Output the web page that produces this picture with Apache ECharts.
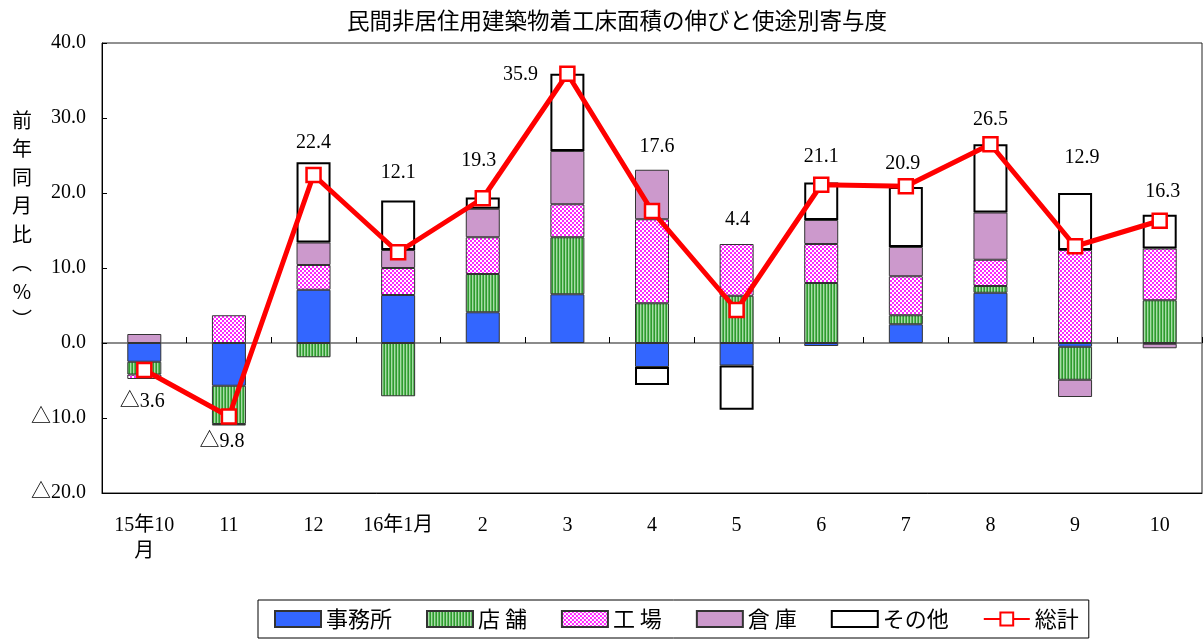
<!DOCTYPE html>
<html>
<head>
<meta charset="utf-8">
<script src="https://cdn.jsdelivr.net/npm/echarts@6/dist/echarts.min.js"></script>
<style>
html,body{margin:0;padding:0;background:#fff;}
#chart{width:1203px;height:641px;}
</style>
</head>
<body>
<div id="chart"></div>
<script>
// ---- data ----
var categories = ['15年10\n月', '11', '12', '16年1月', '2', '3', '4', '5', '6', '7', '8', '9', '10'];
var office    = [-2.5, -5.7, 7.1, 6.4, 4.1, 6.5, -3.2, -3.0, -0.4, 2.5, 6.7, -0.5, -0.1];
var shop      = [-1.7, -5.1, -1.9, -7.1, 5.1, 7.6, 5.3, 6.3, 8.0, 1.2, 0.9, -4.4, 5.7];
var factory   = [-0.6, 3.7, 3.3, 3.6, 4.9, 4.4, 11.2, 6.9, 5.2, 5.2, 3.5, 12.4, 6.9];
var warehouse = [1.2, -0.2, 3.0, 2.4, 3.8, 7.1, 6.6, 0, 3.2, 3.9, 6.3, -2.3, -0.6];
var other     = [0, 0, 10.7, 6.6, 1.5, 10.3, -2.4, -5.9, 5.0, 8.0, 9.1, 7.6, 4.5];
var total     = [-3.6, -9.8, 22.4, 12.1, 19.3, 35.9, 17.6, 4.4, 21.1, 20.9, 26.5, 12.9, 16.3];
var yTicks    = [-20, -10, 0, 10, 20, 30, 40];
var seriesNames = ['事務所', '店 舗', '工 場', '倉 庫', 'その他', '総計'];

// ---- layout (label offsets relative to each point, px) ----
var labelOffsets = [[-2,32],[-7,25],[0,-32],[0,-80],[-4,-38],[-47,1],[5,-64],[1,-90],[0,-28],[-3,-23],[0,-25],[7,-89],[3,-29]];

function makePattern(kind){
  var c = document.createElement('canvas');
  var ctx = c.getContext('2d');
  if (kind === 'green') {
    c.width = 3; c.height = 3;
    ctx.fillStyle = '#a8dca8'; ctx.fillRect(0,0,3,3);
    ctx.fillStyle = '#2f9a2f'; ctx.fillRect(0,0,1,3);
    ctx.fillStyle = '#5cb85c'; ctx.fillRect(2,0,1,3);
  } else {
    c.width = 4; c.height = 4;
    ctx.fillStyle = '#ffffff'; ctx.fillRect(0,0,4,4);
    ctx.fillStyle = '#ff22ff';
    for (var i=0;i<4;i++){ ctx.fillRect(i,(3-i)%4,1,1); ctx.fillRect((i+2)%4,i,1,1); }
  }
  return {image: c, repeat: 'repeat'};
}

var serif = "'Liberation Serif','Noto Sans CJK JP',serif";
var cjk = "'Noto Sans CJK JP',sans-serif";

function fmt(v){ return v < 0 ? '△' + Math.abs(v).toFixed(1) : v.toFixed(1); }
function clean(arr){ return arr.map(function(v){ return v === 0 ? '-' : v; }); }

function barSeries(name, data, color, border, bw){
  return {
    name: name, type: 'bar', stack: 'a', xAxisIndex: 0, barWidth: 34,
    data: clean(data),
    itemStyle: {color: color, borderColor: border, borderWidth: bw},
    emphasis: {disabled: true}
  };
}

var chart = echarts.init(document.getElementById('chart'), null, {renderer: 'canvas'});
chart.setOption({
  animation: false,
  backgroundColor: '#fff',
  title: {
    text: '民間非居住用建築物着工床面積の伸びと使途別寄与度',
    left: 342, top: 4,
    textStyle: {fontFamily: cjk, fontSize: 22.5, fontWeight: 'normal', color: '#000'}
  },
  graphic: [{
    type: 'text', left: 12, top: 106,
    style: {text: '前\n年\n同\n月\n比\n︵\n%\n︶', font: '20px ' + cjk, lineHeight: 28.5, fill: '#000', textAlign: 'center'}
  }],
  grid: {left: 102, right: 1, top: 43, bottom: 148, show: true, borderColor: '#222', borderWidth: 1},
  legend: {
    left: 258, top: 600,
    padding: [8, 10, 8, 16],
    borderColor: '#000', borderWidth: 1,
    itemWidth: 46, itemHeight: 16, itemGap: 34,
    textStyle: {fontFamily: cjk, fontSize: 22, color: '#000', padding: [0, 0, 0, 0]},
    data: seriesNames.map(function(n, i){ return i < 5 ? {name: n, icon: 'rect'} : {name: n}; })
  },
  xAxis: [{
    type: 'category', data: categories, position: 'bottom',
    axisLine: {onZero: false, show: true, lineStyle: {color: '#000'}},
    axisTick: {show: false},
    axisLabel: {interval: 0, margin: 20, fontFamily: serif, fontSize: 20, color: '#000', lineHeight: 26}
  }, {
    type: 'category', data: categories, position: 'bottom',
    axisLine: {onZero: true, lineStyle: {color: '#666', width: 1.5}},
    axisTick: {show: true, inside: true, length: 6, lineStyle: {color: '#000'}},
    axisLabel: {show: false}
  }],
  yAxis: {
    type: 'value', min: yTicks[0], max: yTicks[yTicks.length-1], interval: 10,
    splitLine: {show: false},
    axisLine: {show: true, lineStyle: {color: '#000'}},
    axisTick: {show: true, inside: true, length: 5, lineStyle: {color: '#000'}},
    axisLabel: {margin: 16, fontFamily: serif, fontSize: 20, color: '#000', formatter: fmt}
  },
  series: [
    barSeries(seriesNames[0], office, '#3366ff', '#333', 1),
    barSeries(seriesNames[1], shop, makePattern('green'), '#333', 1),
    barSeries(seriesNames[2], factory, makePattern('pink'), '#333', 1),
    barSeries(seriesNames[3], warehouse, '#cc99cc', '#333', 1),
    barSeries(seriesNames[4], other, '#ffffff', '#000', 2),
    {
      name: seriesNames[5], type: 'line', xAxisIndex: 0, z: 5,
      data: total.map(function(v, i){ return {value: v, label: {offset: labelOffsets[i]}}; }),
      lineStyle: {color: '#ff0000', width: 5},
      itemStyle: {color: '#ffffff', borderColor: '#ff0000', borderWidth: 2.5},
      symbol: 'rect', symbolSize: 14,
      emphasis: {disabled: true},
      label: {
        show: true, position: 'inside', formatter: function(p){ return fmt(p.value); },
        fontFamily: serif, fontSize: 20, color: '#000', backgroundColor: '#fff', padding: [1, 2]
      }
    }
  ]
});
</script>
</body>
</html>
